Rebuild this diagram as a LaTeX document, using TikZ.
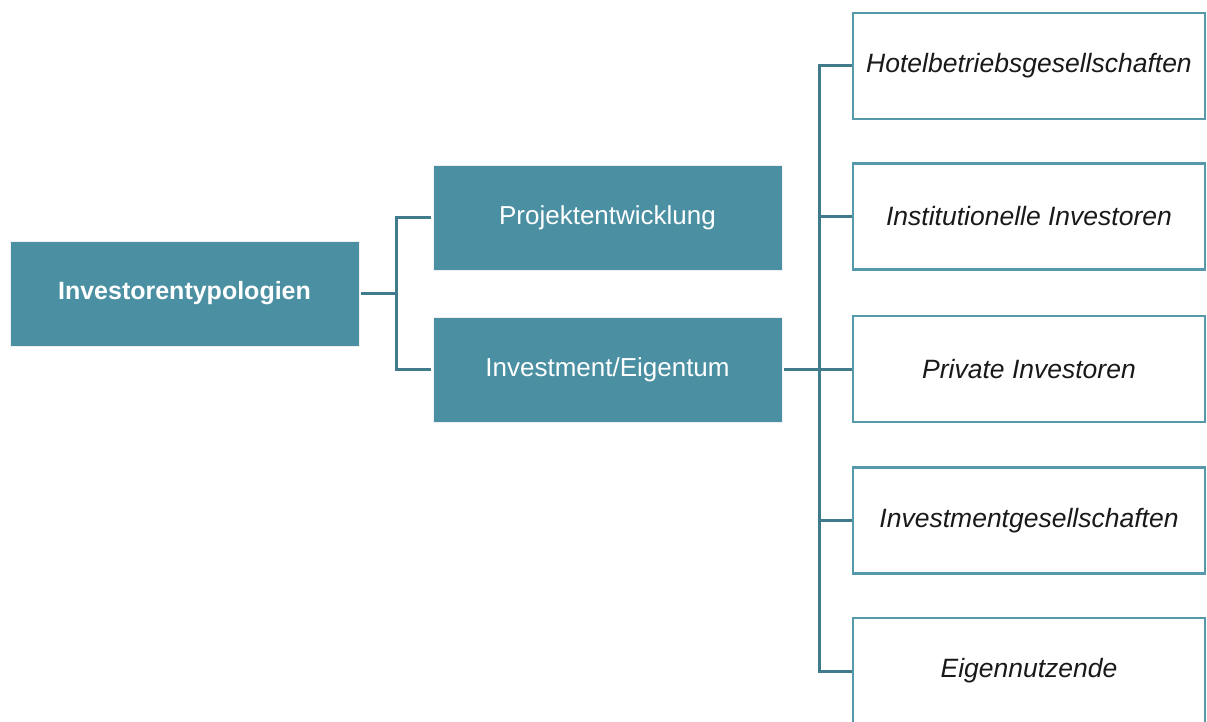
\documentclass[tikz,border=0pt]{standalone}
\usepackage{fontspec}
\setmainfont{Liberation Sans}
\usetikzlibrary{positioning}
\definecolor{tealfill}{HTML}{4A90A2}
\definecolor{tealline}{HTML}{3F7B8B}
\definecolor{tealedge}{HTML}{5599AB}

\begin{document}
\begin{tikzpicture}[x=1pt,y=-1pt,
							filledbox/.style={rectangle, fill=tealfill, draw=black!6, line width=0.8pt, text=white, minimum width=349pt, minimum height=105pt, inner sep=0pt, outer sep=2pt, font=\fontsize{26}{30}\selectfont},
							rootbox/.style={filledbox, font=\fontsize{25}{30}\selectfont\bfseries},
							typebox/.style={rectangle, fill=white, draw=tealedge, line width=2.6pt, text=black!90, minimum width=352pt, minimum height=106pt, inner sep=0pt, font=\fontsize{26.5}{30}\selectfont\itshape},
							connector/.style={draw=tealline, line width=3pt},
							]
							\useasboundingbox (0,0) rectangle (1207,722);
							%Nodes
							\node[rootbox]      (root) 	at	(184.5,293.5)		{Investorentypologien};
							\node[filledbox]    (proj) 	at 	(607.5,217.5)		{Projektentwicklung};
							\node[filledbox]    (inv) 	at 	(607.5,369.5)		{Investment/Eigentum};
							\node[typebox]      (t1) 	at 	(1029,66)		{Hotelbetriebsgesellschaften};
							\node[typebox]      (t2) 	at 	(1029,216.5)		{Institutionelle Investoren};
							\node[typebox]      (t3) 	at 	(1029,369)		{Private Investoren};
							\node[typebox]      (t4) 	at 	(1029,520.5)		{Investmentgesellschaften};
							\node[typebox]      (t5) 	at 	(1029,671)		{Eigennutzende};
							\coordinate           (split1)	at	(396,293.5);
							\coordinate           (split2)	at	(819,369.5);
							
							%Lines
							\draw[connector] (root.east) -- (split1);
							\draw[connector] (proj.west) -| (split1) |- (inv.west);
							\draw[connector] (inv.east) -- (split2);
							\foreach \t in {t1,t2,t3,t4,t5}
								\draw[connector] (split2) |- (\t.west);
						\end{tikzpicture}
\end{document}
